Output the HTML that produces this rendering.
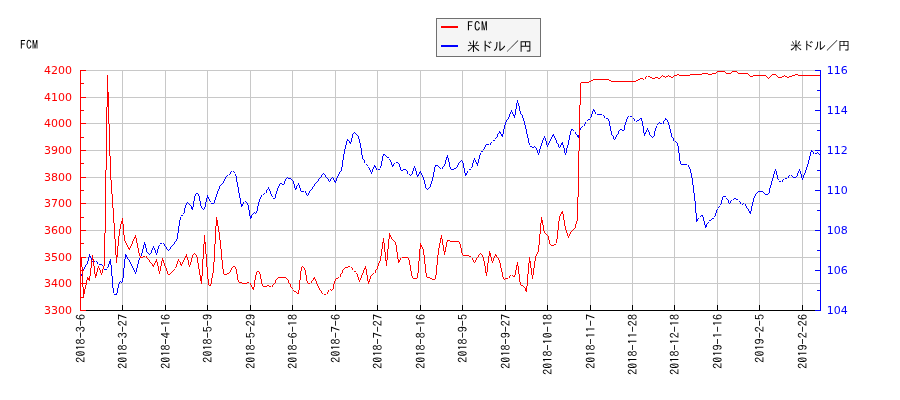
<!DOCTYPE html><html><head><meta charset="utf-8"><title>FCM</title><style>
html,body{margin:0;padding:0;background:#fff;}svg{display:block;}
.n{font-family:"DejaVu Sans","Liberation Sans",sans-serif;font-size:11px;}
.j{font-family:"IPAGothic","Liberation Mono","Noto Sans CJK JP",monospace;font-size:12px;fill:#000;}
</style></head><body>
<svg width="900" height="400" viewBox="0 0 900 400">
<rect width="900" height="400" fill="#fff"/>
<g shape-rendering="crispEdges" fill="none" stroke-width="1">
<line x1="80" y1="70.5" x2="820" y2="70.5" stroke="#c8c8c8"/>
<line x1="80" y1="97.5" x2="820" y2="97.5" stroke="#c8c8c8"/>
<line x1="80" y1="123.5" x2="820" y2="123.5" stroke="#c8c8c8"/>
<line x1="80" y1="150.5" x2="820" y2="150.5" stroke="#c8c8c8"/>
<line x1="80" y1="177.5" x2="820" y2="177.5" stroke="#c8c8c8"/>
<line x1="80" y1="203.5" x2="820" y2="203.5" stroke="#c8c8c8"/>
<line x1="80" y1="230.5" x2="820" y2="230.5" stroke="#c8c8c8"/>
<line x1="80" y1="257.5" x2="820" y2="257.5" stroke="#c8c8c8"/>
<line x1="80" y1="283.5" x2="820" y2="283.5" stroke="#c8c8c8"/>
<line x1="80" y1="310.5" x2="820" y2="310.5" stroke="#c8c8c8"/>
<line x1="122.5" y1="70" x2="122.5" y2="310" stroke="#c8c8c8"/>
<line x1="165.5" y1="70" x2="165.5" y2="310" stroke="#c8c8c8"/>
<line x1="207.5" y1="70" x2="207.5" y2="310" stroke="#c8c8c8"/>
<line x1="250.5" y1="70" x2="250.5" y2="310" stroke="#c8c8c8"/>
<line x1="292.5" y1="70" x2="292.5" y2="310" stroke="#c8c8c8"/>
<line x1="335.5" y1="70" x2="335.5" y2="310" stroke="#c8c8c8"/>
<line x1="377.5" y1="70" x2="377.5" y2="310" stroke="#c8c8c8"/>
<line x1="420.5" y1="70" x2="420.5" y2="310" stroke="#c8c8c8"/>
<line x1="462.5" y1="70" x2="462.5" y2="310" stroke="#c8c8c8"/>
<line x1="505.5" y1="70" x2="505.5" y2="310" stroke="#c8c8c8"/>
<line x1="547.5" y1="70" x2="547.5" y2="310" stroke="#c8c8c8"/>
<line x1="590.5" y1="70" x2="590.5" y2="310" stroke="#c8c8c8"/>
<line x1="632.5" y1="70" x2="632.5" y2="310" stroke="#c8c8c8"/>
<line x1="674.5" y1="70" x2="674.5" y2="310" stroke="#c8c8c8"/>
<line x1="717.5" y1="70" x2="717.5" y2="310" stroke="#c8c8c8"/>
<line x1="759.5" y1="70" x2="759.5" y2="310" stroke="#c8c8c8"/>
<line x1="802.5" y1="70" x2="802.5" y2="310" stroke="#c8c8c8"/>
<line x1="80" y1="310.5" x2="821" y2="310.5" stroke="#000"/>
<line x1="80.5" y1="305" x2="80.5" y2="311" stroke="#000"/>
<line x1="122.5" y1="305" x2="122.5" y2="311" stroke="#000"/>
<line x1="165.5" y1="305" x2="165.5" y2="311" stroke="#000"/>
<line x1="207.5" y1="305" x2="207.5" y2="311" stroke="#000"/>
<line x1="250.5" y1="305" x2="250.5" y2="311" stroke="#000"/>
<line x1="292.5" y1="305" x2="292.5" y2="311" stroke="#000"/>
<line x1="335.5" y1="305" x2="335.5" y2="311" stroke="#000"/>
<line x1="377.5" y1="305" x2="377.5" y2="311" stroke="#000"/>
<line x1="420.5" y1="305" x2="420.5" y2="311" stroke="#000"/>
<line x1="462.5" y1="305" x2="462.5" y2="311" stroke="#000"/>
<line x1="505.5" y1="305" x2="505.5" y2="311" stroke="#000"/>
<line x1="547.5" y1="305" x2="547.5" y2="311" stroke="#000"/>
<line x1="590.5" y1="305" x2="590.5" y2="311" stroke="#000"/>
<line x1="632.5" y1="305" x2="632.5" y2="311" stroke="#000"/>
<line x1="674.5" y1="305" x2="674.5" y2="311" stroke="#000"/>
<line x1="717.5" y1="305" x2="717.5" y2="311" stroke="#000"/>
<line x1="759.5" y1="305" x2="759.5" y2="311" stroke="#000"/>
<line x1="802.5" y1="305" x2="802.5" y2="311" stroke="#000"/>
<path d="M84 267v2h1v-2zM83 269v2h1v-2zM82 271v3h1v-3zM81 274v2h1v-2zM87 263v1h1v-1zM86 264v1h1v-1zM85 265v2h1v-2zM84 267v1h1v-1zM89 254v3h1v-3zM88 257v4h1v-4zM87 261v3h1v-3zM89 254v2h1v-2zM90 256v2h1v-2zM91 258v3h1v-3zM92 261v2h1v-2zM92 262h1v1h-1zM93 261h2v1h-2zM95 260h1v1h-1zM95 260v1h1v-1zM96 261v1h1v-1zM97 262v2h1v-2zM98 264v1h1v-1zM98 264h5v1h-5zM102 264v2h1v-2zM103 266v3h1v-3zM104 269v2h1v-2zM104 270h1v1h-1zM105 269h2v1h-2zM107 268h1v1h-1zM110 259v2h1v-2zM109 261v3h1v-3zM108 264v3h1v-3zM107 267v2h1v-2zM110 259v6h1v-6zM111 265v11h1v-11zM112 276v12h1v-12zM113 288v6h1v-6zM113 293h1v1h-1zM114 294h2v1h-2zM116 295h1v1h-1zM119 281v3h1v-3zM118 284v4h1v-4zM117 288v5h1v-5zM116 293v3h1v-3zM119 281h2v1h-2zM121 282h2v1h-2zM125 254v5h1v-5zM124 259v9h1v-9zM123 268v10h1v-10zM122 278v5h1v-5zM125 254v1h1v-1zM126 255v2h1v-2zM127 257v2h1v-2zM128 259v1h1v-1zM129 260v2h1v-2zM130 262v1h1v-1zM130 262v2h1v-2zM131 264v2h1v-2zM132 266v2h1v-2zM133 268v2h1v-2zM134 270v2h1v-2zM135 272v2h1v-2zM139 258v2h1v-2zM138 260v4h1v-4zM137 264v4h1v-4zM136 268v4h1v-4zM135 272v2h1v-2zM141 255v1h1v-1zM140 256v2h1v-2zM139 258v1h1v-1zM144 242v3h1v-3zM143 245v4h1v-4zM142 249v4h1v-4zM141 253v3h1v-3zM144 242v2h1v-2zM145 244v4h1v-4zM146 248v4h1v-4zM147 252v2h1v-2zM147 253h2v1h-2zM149 254h2v1h-2zM153 246v2h1v-2zM152 248v2h1v-2zM151 250v3h1v-3zM150 253v2h1v-2zM153 246v2h1v-2zM154 248v2h1v-2zM155 250v3h1v-3zM156 253v2h1v-2zM159 244v2h1v-2zM158 246v3h1v-3zM157 249v4h1v-4zM156 253v2h1v-2zM159 244h1v1h-1zM160 243h2v1h-2zM162 242h1v1h-1zM162 242v1h1v-1zM163 243v1h1v-1zM164 244v2h1v-2zM165 246v1h1v-1zM166 247v2h1v-2zM167 249v1h1v-1zM168 250v1h1v-1zM172 245v1h1v-1zM171 246v1h1v-1zM170 247v2h1v-2zM169 249v1h1v-1zM168 250v1h1v-1zM176 240v1h1v-1zM175 241v1h1v-1zM174 242v2h1v-2zM173 244v1h1v-1zM172 245v1h1v-1zM177 236v3h1v-3zM176 239v2h1v-2zM180 216v4h1v-4zM179 220v6h1v-6zM178 226v7h1v-7zM177 233v4h1v-4zM180 216h1v1h-1zM181 215h2v1h-2zM183 214h1v1h-1zM186 202v3h1v-3zM185 205v3h1v-3zM184 208v5h1v-5zM183 213v2h1v-2zM186 202h2v1h-2zM188 203h2v1h-2zM189 203v2h1v-2zM190 205v1h1v-1zM191 206v3h1v-3zM192 209v1h1v-1zM195 193v3h1v-3zM194 196v5h1v-5zM193 201v6h1v-6zM192 207v3h1v-3zM195 193h4v1h-4zM198 193v3h1v-3zM199 196v5h1v-5zM200 201v5h1v-5zM201 206v3h1v-3zM201 208h2v1h-2zM203 209h2v1h-2zM207 195v3h1v-3zM206 198v4h1v-4zM205 202v5h1v-5zM204 207v3h1v-3zM207 195v2h1v-2zM208 197v2h1v-2zM209 199v2h1v-2zM210 201v2h1v-2zM210 202h1v1h-1zM211 203h2v1h-2zM213 204h1v1h-1zM216 195v2h1v-2zM215 197v3h1v-3zM214 200v3h1v-3zM213 203v2h1v-2zM220 184v2h1v-2zM219 186v3h1v-3zM218 189v2h1v-2zM217 191v3h1v-3zM216 194v2h1v-2zM220 184h3v1h-3zM226 175v2h1v-2zM225 177v2h1v-2zM224 179v2h1v-2zM223 181v2h1v-2zM222 183v2h1v-2zM226 175h3v1h-3zM232 170v1h1v-1zM231 171v1h1v-1zM230 172v2h1v-2zM229 174v1h1v-1zM228 175v1h1v-1zM232 170h1v1h-1zM233 171h1v1h-1zM234 172h1v1h-1zM235 173h1v1h-1zM235 173v3h1v-3zM236 176v6h1v-6zM237 182v5h1v-5zM238 187v6h1v-6zM239 193v5h1v-5zM240 198v6h1v-6zM241 204v3h1v-3zM244 201v1h1v-1zM243 202v2h1v-2zM242 204v2h1v-2zM241 206v1h1v-1zM244 201h2v1h-2zM246 202h2v1h-2zM247 202v3h1v-3zM248 205v5h1v-5zM249 210v6h1v-6zM250 216v3h1v-3zM253 212v2h1v-2zM252 214v1h1v-1zM251 215v3h1v-3zM250 218v1h1v-1zM253 212h2v1h-2zM255 213h2v1h-2zM259 199v3h1v-3zM258 202v4h1v-4zM257 206v5h1v-5zM256 211v3h1v-3zM262 194v1h1v-1zM261 195v2h1v-2zM260 197v2h1v-2zM259 199v1h1v-1zM262 194h2v1h-2zM264 193h2v1h-2zM268 187v2h1v-2zM267 189v1h1v-1zM266 190v3h1v-3zM265 193v1h1v-1zM268 187v2h1v-2zM269 189v2h1v-2zM270 191v3h1v-3zM271 194v2h1v-2zM272 196v2h1v-2zM272 197h1v1h-1zM273 198h1v1h-1zM274 199h1v1h-1zM277 189v2h1v-2zM276 191v3h1v-3zM275 194v4h1v-4zM274 198v2h1v-2zM280 182v2h1v-2zM279 184v2h1v-2zM278 186v2h1v-2zM277 188v2h1v-2zM280 182h1v1h-1zM281 183h1v1h-1zM282 184h1v1h-1zM283 185h1v1h-1zM286 177v2h1v-2zM285 179v2h1v-2zM284 181v3h1v-3zM283 184v2h1v-2zM286 177h2v1h-2zM288 178h2v1h-2zM289 178h2v1h-2zM291 179h2v1h-2zM292 179v2h1v-2zM293 181v3h1v-3zM294 184v4h1v-4zM295 188v2h1v-2zM298 183v2h1v-2zM297 185v1h1v-1zM296 186v3h1v-3zM295 189v1h1v-1zM298 183v2h1v-2zM299 185v3h1v-3zM300 188v3h1v-3zM301 191v2h1v-2zM301 192h1v1h-1zM302 191h2v1h-2zM304 190h1v1h-1zM304 190v1h1v-1zM305 191v2h1v-2zM306 193v2h1v-2zM307 195v1h1v-1zM310 190v1h1v-1zM309 191v2h1v-2zM308 193v2h1v-2zM307 195v1h1v-1zM316 182v1h1v-1zM315 183v1h1v-1zM314 184v2h1v-2zM313 186v1h1v-1zM312 187v2h1v-2zM311 189v1h1v-1zM310 190v1h1v-1zM320 177v1h1v-1zM319 178v1h1v-1zM318 179v2h1v-2zM317 181v1h1v-1zM316 182v1h1v-1zM323 173v1h1v-1zM322 174v1h1v-1zM321 175v2h1v-2zM320 177v1h1v-1zM323 173v1h1v-1zM324 174v1h1v-1zM325 175v2h1v-2zM326 177v1h1v-1zM326 177v1h1v-1zM327 178v1h1v-1zM328 179v2h1v-2zM329 181v1h1v-1zM332 177v1h1v-1zM331 178v1h1v-1zM330 179v2h1v-2zM329 181v1h1v-1zM332 177v1h1v-1zM333 178v2h1v-2zM334 180v2h1v-2zM335 182v1h1v-1zM338 174v2h1v-2zM337 176v2h1v-2zM336 178v3h1v-3zM335 181v2h1v-2zM341 170v1h1v-1zM340 171v1h1v-1zM339 172v2h1v-2zM338 174v1h1v-1zM344 150v4h1v-4zM343 154v6h1v-6zM342 160v7h1v-7zM341 167v4h1v-4zM347 139v2h1v-2zM346 141v4h1v-4zM345 145v4h1v-4zM344 149v2h1v-2zM347 139v1h1v-1zM348 140v1h1v-1zM349 141v2h1v-2zM350 143v1h1v-1zM353 132v2h1v-2zM352 134v4h1v-4zM351 138v4h1v-4zM350 142v2h1v-2zM353 132h2v1h-2zM355 133h2v1h-2zM356 133v2h1v-2zM357 135v1h1v-1zM358 136v3h1v-3zM359 139v1h1v-1zM359 139v4h1v-4zM360 143v5h1v-5zM361 148v7h1v-7zM362 155v3h1v-3zM362 157v2h1v-2zM363 159v1h1v-1zM364 160v3h1v-3zM365 163v1h1v-1zM365 163h1v1h-1zM366 164h1v1h-1zM367 165h1v1h-1zM368 166h1v1h-1zM368 166v2h1v-2zM369 168v2h1v-2zM370 170v2h1v-2zM371 172v2h1v-2zM374 165v2h1v-2zM373 167v2h1v-2zM372 169v3h1v-3zM371 172v2h1v-2zM374 165v1h1v-1zM375 166v2h1v-2zM376 168v2h1v-2zM377 170v1h1v-1zM377 170h1v1h-1zM378 169h2v1h-2zM380 168h1v1h-1zM383 153v3h1v-3zM382 156v5h1v-5zM381 161v5h1v-5zM380 166v3h1v-3zM383 153h1v1h-1zM384 154h1v1h-1zM385 155h1v1h-1zM386 156h1v1h-1zM386 156h1v1h-1zM387 157h2v1h-2zM389 158h1v1h-1zM389 158v2h1v-2zM390 160v2h1v-2zM391 162v3h1v-3zM392 165v2h1v-2zM395 162v1h1v-1zM394 163v1h1v-1zM393 164v2h1v-2zM392 166v1h1v-1zM395 162h4v1h-4zM398 162v2h1v-2zM399 164v3h1v-3zM400 167v3h1v-3zM401 170v2h1v-2zM401 171h1v1h-1zM402 170h1v1h-1zM403 169h2v1h-2zM405 168h1v1h-1zM405 168v2h1v-2zM406 170v1h1v-1zM407 171v3h1v-3zM408 174v1h1v-1zM408 174h2v1h-2zM410 175h2v1h-2zM414 166v2h1v-2zM413 168v3h1v-3zM412 171v3h1v-3zM411 174v2h1v-2zM414 166v2h1v-2zM415 168v3h1v-3zM416 171v4h1v-4zM417 175v2h1v-2zM420 171v1h1v-1zM419 172v2h1v-2zM418 174v2h1v-2zM417 176v1h1v-1zM420 171v2h1v-2zM421 173v2h1v-2zM422 175v2h1v-2zM423 177v2h1v-2zM423 178v2h1v-2zM424 180v4h1v-4zM425 184v4h1v-4zM426 188v2h1v-2zM426 189h2v1h-2zM428 188h2v1h-2zM432 179v2h1v-2zM431 181v3h1v-3zM430 184v3h1v-3zM429 187v2h1v-2zM435 164v3h1v-3zM434 167v5h1v-5zM433 172v5h1v-5zM432 177v3h1v-3zM435 164h1v1h-1zM436 165h2v1h-2zM438 166h1v1h-1zM438 166h1v1h-1zM439 167h1v1h-1zM440 168h1v1h-1zM441 169h1v1h-1zM444 165v1h1v-1zM443 166v1h1v-1zM442 167v2h1v-2zM441 169v1h1v-1zM447 155v2h1v-2zM446 157v3h1v-3zM445 160v4h1v-4zM444 164v2h1v-2zM447 155v3h1v-3zM448 158v4h1v-4zM449 162v5h1v-5zM450 167v3h1v-3zM450 169h4v1h-4zM454 168h3v1h-3zM459 161v2h1v-2zM458 163v2h1v-2zM457 165v2h1v-2zM456 167v2h1v-2zM459 161h2v1h-2zM461 160h2v1h-2zM462 160v3h1v-3zM463 163v5h1v-5zM464 168v5h1v-5zM465 173v3h1v-3zM468 170v1h1v-1zM467 171v2h1v-2zM466 173v2h1v-2zM465 175v1h1v-1zM468 170h1v1h-1zM469 169h2v1h-2zM471 168h1v1h-1zM474 158v2h1v-2zM473 160v3h1v-3zM472 163v4h1v-4zM471 167v2h1v-2zM474 158v2h1v-2zM475 160v2h1v-2zM476 162v2h1v-2zM477 164v2h1v-2zM480 152v3h1v-3zM479 155v4h1v-4zM478 159v4h1v-4zM477 163v3h1v-3zM480 152h1v1h-1zM481 151h2v1h-2zM483 150h1v1h-1zM486 143v2h1v-2zM485 145v2h1v-2zM484 147v2h1v-2zM483 149v2h1v-2zM486 143h1v1h-1zM487 144h2v1h-2zM489 145h1v1h-1zM492 141v1h1v-1zM491 142v1h1v-1zM490 143v2h1v-2zM489 145v1h1v-1zM492 141h1v1h-1zM493 140h2v1h-2zM495 139h1v1h-1zM499 131v2h1v-2zM498 133v1h1v-1zM497 134v3h1v-3zM496 137v1h1v-1zM495 138v2h1v-2zM499 131v1h1v-1zM500 132v2h1v-2zM501 134v2h1v-2zM502 136v1h1v-1zM505 122v3h1v-3zM504 125v4h1v-4zM503 129v5h1v-5zM502 134v3h1v-3zM508 118v1h1v-1zM507 119v1h1v-1zM506 120v2h1v-2zM505 122v1h1v-1zM511 110v2h1v-2zM510 112v2h1v-2zM509 114v3h1v-3zM508 117v2h1v-2zM511 110v2h1v-2zM512 112v2h1v-2zM513 114v2h1v-2zM514 116v2h1v-2zM517 100v3h1v-3zM516 103v6h1v-6zM515 109v6h1v-6zM514 115v3h1v-3zM517 100v3h1v-3zM518 103v3h1v-3zM519 106v5h1v-5zM520 111v2h1v-2zM520 112v2h1v-2zM521 114v1h1v-1zM522 115v3h1v-3zM523 118v1h1v-1zM523 118v3h1v-3zM524 121v4h1v-4zM525 125v4h1v-4zM526 129v3h1v-3zM526 131v3h1v-3zM527 134v4h1v-4zM528 138v5h1v-5zM529 143v3h1v-3zM529 145h1v1h-1zM530 146h2v1h-2zM532 147h1v1h-1zM532 147h2v1h-2zM534 146h2v1h-2zM535 146v2h1v-2zM536 148v2h1v-2zM537 150v3h1v-3zM538 153v2h1v-2zM541 144v2h1v-2zM540 146v3h1v-3zM539 149v4h1v-4zM538 153v2h1v-2zM544 136v2h1v-2zM543 138v2h1v-2zM542 140v3h1v-3zM541 143v2h1v-2zM544 136v2h1v-2zM545 138v3h1v-3zM546 141v4h1v-4zM547 145v2h1v-2zM550 139v2h1v-2zM549 141v2h1v-2zM548 143v2h1v-2zM547 145v2h1v-2zM553 134v1h1v-1zM552 135v2h1v-2zM551 137v2h1v-2zM550 139v1h1v-1zM553 134v2h1v-2zM554 136v2h1v-2zM555 138v2h1v-2zM556 140v2h1v-2zM556 141v2h1v-2zM557 143v1h1v-1zM558 144v3h1v-3zM559 147v1h1v-1zM562 142v1h1v-1zM561 143v2h1v-2zM560 145v2h1v-2zM559 147v1h1v-1zM562 142v3h1v-3zM563 145v3h1v-3zM564 148v5h1v-5zM565 153v2h1v-2zM568 142v3h1v-3zM567 145v3h1v-3zM566 148v5h1v-5zM565 153v2h1v-2zM571 128v3h1v-3zM570 131v4h1v-4zM569 135v5h1v-5zM568 140v3h1v-3zM571 128h1v1h-1zM572 129h1v1h-1zM573 130h1v1h-1zM574 131h1v1h-1zM574 131v1h1v-1zM575 132v2h1v-2zM576 134v1h1v-1zM577 135v2h1v-2zM578 137v1h1v-1zM580 127v3h1v-3zM579 130v5h1v-5zM578 135v3h1v-3zM580 127h2v1h-2zM582 126h2v1h-2zM586 121v1h1v-1zM585 122v2h1v-2zM584 124v2h1v-2zM583 126v1h1v-1zM586 121h1v1h-1zM587 120h1v1h-1zM588 119h2v1h-2zM590 118h1v1h-1zM593 109v2h1v-2zM592 111v3h1v-3zM591 114v3h1v-3zM590 117v2h1v-2zM593 109v1h1v-1zM594 110v2h1v-2zM595 112v2h1v-2zM596 114v1h1v-1zM596 114h7v1h-7zM602 114v1h1v-1zM603 115v1h1v-1zM604 116v2h1v-2zM605 118v1h1v-1zM605 118h4v1h-4zM608 118v3h1v-3zM609 121v5h1v-5zM610 126v5h1v-5zM611 131v3h1v-3zM611 133v2h1v-2zM612 135v1h1v-1zM613 136v3h1v-3zM614 139v1h1v-1zM617 134v1h1v-1zM616 135v2h1v-2zM615 137v2h1v-2zM614 139v1h1v-1zM620 128v2h1v-2zM619 130v1h1v-1zM618 131v3h1v-3zM617 134v1h1v-1zM620 128h1v1h-1zM621 129h1v1h-1zM622 130h1v1h-1zM623 131h1v1h-1zM626 119v3h1v-3zM625 122v3h1v-3zM624 125v5h1v-5zM623 130v2h1v-2zM629 115v1h1v-1zM628 116v1h1v-1zM627 117v2h1v-2zM626 119v1h1v-1zM629 115h1v1h-1zM630 116h2v1h-2zM632 117h1v1h-1zM632 117v1h1v-1zM633 118v1h1v-1zM634 119v2h1v-2zM635 121v1h1v-1zM635 121h2v1h-2zM637 120h2v1h-2zM638 120h1v1h-1zM639 119h1v1h-1zM640 118h1v1h-1zM641 117h1v1h-1zM641 117v4h1v-4zM642 121v5h1v-5zM643 126v7h1v-7zM644 133v3h1v-3zM647 128v2h1v-2zM646 130v2h1v-2zM645 132v2h1v-2zM644 134v2h1v-2zM647 128v2h1v-2zM648 130v2h1v-2zM649 132v3h1v-3zM650 135v2h1v-2zM650 136h2v1h-2zM652 137h2v1h-2zM656 125v3h1v-3zM655 128v3h1v-3zM654 131v5h1v-5zM653 136v2h1v-2zM656 125h1v1h-1zM657 124h1v1h-1zM658 123h1v1h-1zM659 122h1v1h-1zM659 122h1v1h-1zM660 123h2v1h-2zM662 124h1v1h-1zM665 118v2h1v-2zM664 120v1h1v-1zM663 121v3h1v-3zM662 124v1h1v-1zM665 118v1h1v-1zM666 119v1h1v-1zM667 120v2h1v-2zM668 122v1h1v-1zM668 122v3h1v-3zM669 125v4h1v-4zM670 129v4h1v-4zM671 133v3h1v-3zM671 135v2h1v-2zM672 137v1h1v-1zM673 138v3h1v-3zM674 141v1h1v-1zM674 141h2v1h-2zM676 142h2v1h-2zM677 142v4h1v-4zM678 146v7h1v-7zM679 153v8h1v-8zM680 161v4h1v-4zM680 164h8v1h-8zM687 164v1h1v-1zM688 165v2h1v-2zM689 167v2h1v-2zM690 169v1h1v-1zM690 169v4h1v-4zM691 173v5h1v-5zM692 178v4h1v-4zM692 181v4h1v-4zM693 185v8h1v-8zM694 193v8h1v-8zM695 201v4h1v-4zM695 204v9h1v-9zM696 213v9h1v-9zM699 217v1h1v-1zM698 218v1h1v-1zM697 219v2h1v-2zM696 221v1h1v-1zM699 217h1v1h-1zM700 216h1v1h-1zM701 215h1v1h-1zM702 214h1v1h-1zM702 214v3h1v-3zM703 217v4h1v-4zM704 221v4h1v-4zM705 225v3h1v-3zM708 221v2h1v-2zM707 223v1h1v-1zM706 224v3h1v-3zM705 227v1h1v-1zM708 221h1v1h-1zM709 220h2v1h-2zM711 219h1v1h-1zM712 218h2v1h-2zM714 217h1v1h-1zM717 208v2h1v-2zM716 210v3h1v-3zM715 213v3h1v-3zM714 216v2h1v-2zM717 208h1v1h-1zM718 207h1v1h-1zM719 206h1v1h-1zM720 205h1v1h-1zM723 195v2h1v-2zM722 197v3h1v-3zM721 200v4h1v-4zM720 204v2h1v-2zM723 195h1v1h-1zM724 196h2v1h-2zM726 197h1v1h-1zM726 197v2h1v-2zM727 199v1h1v-1zM728 200v3h1v-3zM729 203v1h1v-1zM732 199v1h1v-1zM731 200v1h1v-1zM730 201v2h1v-2zM729 203v1h1v-1zM732 199h2v1h-2zM734 198h2v1h-2zM735 198h1v1h-1zM736 199h2v1h-2zM738 200h1v1h-1zM738 200v1h1v-1zM739 201v1h1v-1zM740 202v2h1v-2zM741 204v1h1v-1zM741 204h2v1h-2zM743 203h2v1h-2zM744 203v1h1v-1zM745 204v2h1v-2zM746 206v2h1v-2zM747 208v1h1v-1zM748 209v2h1v-2zM749 211v2h1v-2zM750 213v1h1v-1zM753 199v3h1v-3zM752 202v4h1v-4zM751 206v5h1v-5zM750 211v3h1v-3zM756 192v2h1v-2zM755 194v2h1v-2zM754 196v2h1v-2zM753 198v2h1v-2zM756 192h2v1h-2zM758 191h2v1h-2zM759 191h4v1h-4zM762 191h1v1h-1zM763 192h1v1h-1zM764 193h1v1h-1zM765 194h1v1h-1zM765 194h4v1h-4zM771 182v3h1v-3zM770 185v3h1v-3zM769 188v5h1v-5zM768 193v2h1v-2zM775 169v2h1v-2zM774 171v3h1v-3zM773 174v4h1v-4zM772 178v3h1v-3zM771 181v2h1v-2zM775 169v2h1v-2zM776 171v4h1v-4zM777 175v4h1v-4zM778 179v2h1v-2zM778 180h1v1h-1zM779 181h2v1h-2zM781 182h1v1h-1zM784 178v1h1v-1zM783 179v1h1v-1zM782 180v2h1v-2zM781 182v1h1v-1zM784 178h4v1h-4zM790 174v1h1v-1zM789 175v1h1v-1zM788 176v2h1v-2zM787 178v1h1v-1zM790 174h1v1h-1zM791 175h1v1h-1zM792 176h1v1h-1zM793 177h1v1h-1zM793 177h4v1h-4zM799 169v2h1v-2zM798 171v2h1v-2zM797 173v3h1v-3zM796 176v2h1v-2zM799 169v2h1v-2zM800 171v3h1v-3zM801 174v4h1v-4zM802 178v2h1v-2zM807 165v2h1v-2zM806 167v3h1v-3zM805 170v3h1v-3zM804 173v2h1v-2zM803 175v3h1v-3zM802 178v2h1v-2zM811 150v2h1v-2zM810 152v4h1v-4zM809 156v4h1v-4zM808 160v4h1v-4zM807 164v2h1v-2zM811 150v1h1v-1zM812 151v1h1v-1zM813 152v2h1v-2zM814 154v1h1v-1zM814 154h1v1h-1zM815 153h2v1h-2zM817 152h1v1h-1zM817 152h1v1h-1zM818 153h1v1h-1zM819 154h1v1h-1zM820 155h1v1h-1z" fill="#0000ff" stroke="none"/>
<path d="M81 257v10h1v-10zM82 267v20h1v-20zM83 287v10h1v-10zM87 277v3h1v-3zM86 280v5h1v-5zM85 285v4h1v-4zM84 289v5h1v-5zM83 294v3h1v-3zM87 277v1h1v-1zM88 278v2h1v-2zM89 280v1h1v-1zM92 255v5h1v-5zM91 260v8h1v-8zM90 268v8h1v-8zM89 276v5h1v-5zM92 255v4h1v-4zM93 259v7h1v-7zM94 266v8h1v-8zM95 274v4h1v-4zM98 266v2h1v-2zM97 268v4h1v-4zM96 272v4h1v-4zM95 276v2h1v-2zM98 266v2h1v-2zM99 268v2h1v-2zM100 270v3h1v-3zM101 273v2h1v-2zM104 264v2h1v-2zM103 266v3h1v-3zM102 269v4h1v-4zM101 273v2h1v-2zM107 75v32h1v-32zM106 107v63h1v-63zM105 170v63h1v-63zM104 233v32h1v-32zM107 75v17h1v-17zM108 92v32h1v-32zM109 124v32h1v-32zM110 156v17h1v-17zM110 172v8h1v-8zM111 180v14h1v-14zM112 194v14h1v-14zM113 208v8h1v-8zM113 215v8h1v-8zM114 223v16h1v-16zM115 239v16h1v-16zM116 255v8h1v-8zM119 230v6h1v-6zM118 236v10h1v-10zM117 246v11h1v-11zM116 257v6h1v-6zM122 218v3h1v-3zM121 221v3h1v-3zM120 224v5h1v-5zM119 229v2h1v-2zM122 218v6h1v-6zM123 224v11h1v-11zM124 235v6h1v-6zM124 240v1h1v-1zM125 241v2h1v-2zM126 243v2h1v-2zM127 245v2h1v-2zM128 247v2h1v-2zM129 249v1h1v-1zM135 235v2h1v-2zM134 237v2h1v-2zM133 239v2h1v-2zM132 241v3h1v-3zM131 244v2h1v-2zM130 246v2h1v-2zM129 248v2h1v-2zM135 235v3h1v-3zM136 238v5h1v-5zM137 243v5h1v-5zM138 248v3h1v-3zM138 250v3h1v-3zM139 253v3h1v-3zM140 256v3h1v-3zM140 258h1v1h-1zM141 257h2v1h-2zM143 256h2v1h-2zM145 255h1v1h-1zM145 255v1h1v-1zM146 256v2h1v-2zM147 258v1h1v-1zM148 259v1h1v-1zM149 260v2h1v-2zM150 262v1h1v-1zM151 263v1h1v-1zM152 264v2h1v-2zM153 266v1h1v-1zM156 259v2h1v-2zM155 261v2h1v-2zM154 263v2h1v-2zM153 265v2h1v-2zM156 259v3h1v-3zM157 262v4h1v-4zM158 266v5h1v-5zM159 271v3h1v-3zM162 258v3h1v-3zM161 261v5h1v-5zM160 266v5h1v-5zM159 271v3h1v-3zM162 258v2h1v-2zM163 260v3h1v-3zM164 263v3h1v-3zM165 266v2h1v-2zM166 268v3h1v-3zM167 271v3h1v-3zM168 274v2h1v-2zM168 275h1v1h-1zM169 274h1v1h-1zM170 273h1v1h-1zM171 272h1v1h-1zM172 271h1v1h-1zM173 270h1v1h-1zM174 269h1v1h-1zM175 268h1v1h-1zM178 259v2h1v-2zM177 261v3h1v-3zM176 264v3h1v-3zM175 267v2h1v-2zM178 259v2h1v-2zM179 261v1h1v-1zM180 262v3h1v-3zM181 265v1h1v-1zM186 254v2h1v-2zM185 256v2h1v-2zM184 258v2h1v-2zM183 260v2h1v-2zM182 262v2h1v-2zM181 264v2h1v-2zM186 254v3h1v-3zM187 257v3h1v-3zM188 260v5h1v-5zM189 265v2h1v-2zM193 253v2h1v-2zM192 255v3h1v-3zM191 258v4h1v-4zM190 262v3h1v-3zM189 265v2h1v-2zM193 253h2v1h-2zM195 254h2v1h-2zM196 254v3h1v-3zM197 257v6h1v-6zM198 263v6h1v-6zM199 269v6h1v-6zM200 275v6h1v-6zM201 281v3h1v-3zM204 235v9h1v-9zM203 244v15h1v-15zM202 259v17h1v-17zM201 276v8h1v-8zM204 235v7h1v-7zM205 242v12h1v-12zM206 254v13h1v-13zM207 267v12h1v-12zM208 279v7h1v-7zM208 285h2v1h-2zM210 286h1v1h-1zM213 270v3h1v-3zM212 273v5h1v-5zM211 278v6h1v-6zM210 284v3h1v-3zM216 217v9h1v-9zM215 226v18h1v-18zM214 244v18h1v-18zM213 262v9h1v-9zM216 217v3h1v-3zM217 220v6h1v-6zM218 226v6h1v-6zM219 232v3h1v-3zM219 234v6h1v-6zM220 240v9h1v-9zM221 249v11h1v-11zM222 260v9h1v-9zM223 269v6h1v-6zM223 274h4v1h-4zM227 273h3v1h-3zM232 266v2h1v-2zM231 268v2h1v-2zM230 270v2h1v-2zM229 272v2h1v-2zM232 266h4v1h-4zM235 266v3h1v-3zM236 269v5h1v-5zM237 274v6h1v-6zM238 280v3h1v-3zM238 282h4v1h-4zM242 283h3v1h-3zM244 283h3v1h-3zM247 282h3v1h-3zM249 282v1h1v-1zM250 283v2h1v-2zM251 285v2h1v-2zM252 287v2h1v-2zM253 289v1h1v-1zM256 271v4h1v-4zM255 275v5h1v-5zM254 280v7h1v-7zM253 287v3h1v-3zM256 271h4v1h-4zM259 271v3h1v-3zM260 274v5h1v-5zM261 279v5h1v-5zM262 284v3h1v-3zM262 286h4v1h-4zM265 286h2v1h-2zM267 285h2v1h-2zM268 285h1v1h-1zM269 286h2v1h-2zM271 287h1v1h-1zM274 283v1h1v-1zM273 284v1h1v-1zM272 285v2h1v-2zM271 287v1h1v-1zM277 277v2h1v-2zM276 279v1h1v-1zM275 280v3h1v-3zM274 283v1h1v-1zM277 277h10v1h-10zM286 277v2h1v-2zM287 279v1h1v-1zM288 280v3h1v-3zM289 283v1h1v-1zM290 284v3h1v-3zM291 287v1h1v-1zM292 288v2h1v-2zM292 289h1v1h-1zM293 290h1v1h-1zM294 291h2v1h-2zM296 292h1v1h-1zM297 293h1v1h-1zM298 294h1v1h-1zM301 266v5h1v-5zM300 271v9h1v-9zM299 280v10h1v-10zM298 290v5h1v-5zM301 266h2v1h-2zM303 267h2v1h-2zM304 267v3h1v-3zM305 270v5h1v-5zM306 275v6h1v-6zM307 281v3h1v-3zM307 283h4v1h-4zM314 277v1h1v-1zM313 278v2h1v-2zM312 280v1h1v-1zM311 281v2h1v-2zM310 283v1h1v-1zM314 277v2h1v-2zM315 279v2h1v-2zM316 281v3h1v-3zM317 284v2h1v-2zM318 286v2h1v-2zM319 288v2h1v-2zM319 289v1h1v-1zM320 290v1h1v-1zM321 291v2h1v-2zM322 293v1h1v-1zM323 294v1h1v-1zM323 294h4v1h-4zM329 289v1h1v-1zM328 290v2h1v-2zM327 292v2h1v-2zM326 294v1h1v-1zM329 289h2v1h-2zM331 290h2v1h-2zM335 278v3h1v-3zM334 281v3h1v-3zM333 284v5h1v-5zM332 289v2h1v-2zM335 278h3v1h-3zM338 277h2v1h-2zM344 267v2h1v-2zM343 269v1h1v-1zM342 270v3h1v-3zM341 273v1h1v-1zM340 274v3h1v-3zM339 277v1h1v-1zM344 267h4v1h-4zM348 266h3v1h-3zM350 266v1h1v-1zM351 267v1h1v-1zM352 268v2h1v-2zM353 270v1h1v-1zM353 270h1v1h-1zM354 271h2v1h-2zM356 272h1v1h-1zM356 272v2h1v-2zM357 274v3h1v-3zM358 277v3h1v-3zM359 280v2h1v-2zM365 266v2h1v-2zM364 268v2h1v-2zM363 270v3h1v-3zM362 273v2h1v-2zM361 275v3h1v-3zM360 278v2h1v-2zM359 280v2h1v-2zM365 266v3h1v-3zM366 269v6h1v-6zM367 275v6h1v-6zM368 281v3h1v-3zM371 274v2h1v-2zM370 276v3h1v-3zM369 279v3h1v-3zM368 282v2h1v-2zM371 274h2v1h-2zM373 273h2v1h-2zM377 267v2h1v-2zM376 269v1h1v-1zM375 270v3h1v-3zM374 273v1h1v-1zM380 259v2h1v-2zM379 261v2h1v-2zM378 263v3h1v-3zM377 266v2h1v-2zM383 238v4h1v-4zM382 242v7h1v-7zM381 249v7h1v-7zM380 256v4h1v-4zM383 238v5h1v-5zM384 243v9h1v-9zM385 252v9h1v-9zM386 261v5h1v-5zM389 233v6h1v-6zM388 239v10h1v-10zM387 249v11h1v-11zM386 260v6h1v-6zM389 233v2h1v-2zM390 235v2h1v-2zM391 237v2h1v-2zM392 239v2h1v-2zM392 240h2v1h-2zM394 241h2v1h-2zM395 241v4h1v-4zM396 245v7h1v-7zM397 252v7h1v-7zM398 259v4h1v-4zM401 257v1h1v-1zM400 258v2h1v-2zM399 260v2h1v-2zM398 262v1h1v-1zM401 257h8v1h-8zM408 257v3h1v-3zM409 260v5h1v-5zM410 265v6h1v-6zM411 271v5h1v-5zM412 276v3h1v-3zM412 278h6v1h-6zM420 243v6h1v-6zM419 249v12h1v-12zM418 261v12h1v-12zM417 273v6h1v-6zM420 243v2h1v-2zM421 245v2h1v-2zM422 247v2h1v-2zM423 249v2h1v-2zM423 250v5h1v-5zM424 255v9h1v-9zM425 264v9h1v-9zM426 273v5h1v-5zM426 277h4v1h-4zM429 277h1v1h-1zM430 278h2v1h-2zM432 279h1v1h-1zM432 279h4v1h-4zM438 250v5h1v-5zM437 255v10h1v-10zM436 265v10h1v-10zM435 275v5h1v-5zM441 235v3h1v-3zM440 238v5h1v-5zM439 243v5h1v-5zM438 248v3h1v-3zM441 235v4h1v-4zM442 239v6h1v-6zM443 245v6h1v-6zM444 251v4h1v-4zM447 239v3h1v-3zM446 242v5h1v-5zM445 247v5h1v-5zM444 252v3h1v-3zM447 239h1v1h-1zM448 240h2v1h-2zM450 241h1v1h-1zM450 241h10v1h-10zM459 241v3h1v-3zM460 244v4h1v-4zM461 248v5h1v-5zM462 253v3h1v-3zM462 255h7v1h-7zM468 255h1v1h-1zM469 256h2v1h-2zM471 257h1v1h-1zM471 257v1h1v-1zM472 258v2h1v-2zM473 260v2h1v-2zM474 262v1h1v-1zM477 257v1h1v-1zM476 258v2h1v-2zM475 260v2h1v-2zM474 262v1h1v-1zM480 253v1h1v-1zM479 254v1h1v-1zM478 255v2h1v-2zM477 257v1h1v-1zM480 253v1h1v-1zM481 254v1h1v-1zM482 255v2h1v-2zM483 257v1h1v-1zM483 257v4h1v-4zM484 261v5h1v-5zM485 266v7h1v-7zM486 273v3h1v-3zM489 251v5h1v-5zM488 256v7h1v-7zM487 263v9h1v-9zM486 272v4h1v-4zM489 251v2h1v-2zM490 253v4h1v-4zM491 257v4h1v-4zM492 261v2h1v-2zM495 254v2h1v-2zM494 256v2h1v-2zM493 258v3h1v-3zM492 261v2h1v-2zM495 254v1h1v-1zM496 255v2h1v-2zM497 257v1h1v-1zM498 258v2h1v-2zM499 260v1h1v-1zM499 260v3h1v-3zM500 263v5h1v-5zM501 268v4h1v-4zM502 272v5h1v-5zM503 277v3h1v-3zM503 279h2v1h-2zM505 278h1v1h-1zM505 278h4v1h-4zM511 274v1h1v-1zM510 275v1h1v-1zM509 276v2h1v-2zM508 278v1h1v-1zM511 274h1v1h-1zM512 275h1v1h-1zM513 276h1v1h-1zM514 277h1v1h-1zM517 262v3h1v-3zM516 265v5h1v-5zM515 270v5h1v-5zM514 275v3h1v-3zM517 262v4h1v-4zM518 266v8h1v-8zM519 274v8h1v-8zM520 282v4h1v-4zM520 285h4v1h-4zM523 285v2h1v-2zM524 287v1h1v-1zM525 288v3h1v-3zM526 291v1h1v-1zM529 257v6h1v-6zM528 263v11h1v-11zM527 274v12h1v-12zM526 286v6h1v-6zM529 257v4h1v-4zM530 261v7h1v-7zM531 268v7h1v-7zM532 275v4h1v-4zM535 257v4h1v-4zM534 261v7h1v-7zM533 268v7h1v-7zM532 275v4h1v-4zM538 250v2h1v-2zM537 252v2h1v-2zM536 254v2h1v-2zM535 256v2h1v-2zM541 217v6h1v-6zM540 223v11h1v-11zM539 234v11h1v-11zM538 245v6h1v-6zM541 217v3h1v-3zM542 220v5h1v-5zM543 225v6h1v-6zM544 231v3h1v-3zM544 233h2v1h-2zM546 234h2v1h-2zM547 234v2h1v-2zM548 236v4h1v-4zM549 240v4h1v-4zM550 244v2h1v-2zM550 245h4v1h-4zM553 245h1v1h-1zM554 244h2v1h-2zM556 243h1v1h-1zM559 216v5h1v-5zM558 221v9h1v-9zM557 230v9h1v-9zM556 239v5h1v-5zM562 211v1h1v-1zM561 212v2h1v-2zM560 214v2h1v-2zM559 216v1h1v-1zM562 211v3h1v-3zM563 214v6h1v-6zM564 220v6h1v-6zM565 226v3h1v-3zM565 228v2h1v-2zM566 230v3h1v-3zM567 233v3h1v-3zM568 236v2h1v-2zM571 230v2h1v-2zM570 232v2h1v-2zM569 234v2h1v-2zM568 236v2h1v-2zM571 230h2v1h-2zM573 229h2v1h-2zM577 219v2h1v-2zM576 221v3h1v-3zM575 224v4h1v-4zM574 228v2h1v-2zM580 82v23h1v-23zM579 105v46h1v-46zM578 151v46h1v-46zM577 197v23h1v-23zM580 82h8v1h-8zM587 82h2v1h-2zM589 81h2v1h-2zM590 81h1v1h-1zM591 80h2v1h-2zM593 79h1v1h-1zM593 79h16v1h-16zM608 79h1v1h-1zM609 80h2v1h-2zM611 81h1v1h-1zM611 81h25v1h-25zM635 81h1v1h-1zM636 80h2v1h-2zM638 79h1v1h-1zM638 79h2v1h-2zM640 78h2v1h-2zM641 78h2v1h-2zM643 79h2v1h-2zM647 75v1h1v-1zM646 76v1h1v-1zM645 77v2h1v-2zM644 79v1h1v-1zM647 75h1v1h-1zM648 76h2v1h-2zM650 77h1v1h-1zM650 77h2v1h-2zM652 78h2v1h-2zM653 78h2v1h-2zM655 77h2v1h-2zM656 77h2v1h-2zM658 78h2v1h-2zM659 78h1v1h-1zM660 77h1v1h-1zM661 76h1v1h-1zM662 75h1v1h-1zM662 75h1v1h-1zM663 76h2v1h-2zM665 77h1v1h-1zM665 77h1v1h-1zM666 76h2v1h-2zM668 75h1v1h-1zM668 75h1v1h-1zM669 76h2v1h-2zM671 77h1v1h-1zM671 77h2v1h-2zM673 76h1v1h-1zM674 75h3v1h-3zM677 74h1v1h-1zM677 74h2v1h-2zM679 75h2v1h-2zM680 75h9v1h-9zM688 75h2v1h-2zM690 74h1v1h-1zM690 74h11v1h-11zM700 74h2v1h-2zM702 73h2v1h-2zM703 73h4v1h-4zM706 73h2v1h-2zM708 74h1v1h-1zM708 74h4v1h-4zM712 73h3v1h-3zM714 73h2v1h-2zM716 72h1v1h-1zM717 71h2v1h-2zM718 71h6v1h-6zM723 71h2v1h-2zM725 72h1v1h-1zM726 73h2v1h-2zM727 73h3v1h-3zM729 73h2v1h-2zM731 72h1v1h-1zM732 71h2v1h-2zM733 71h3v1h-3zM735 71h2v1h-2zM737 72h1v1h-1zM738 73h2v1h-2zM739 73h10v1h-10zM748 73v2h1v-2zM749 75v1h1v-1zM750 76v2h1v-2zM750 77h1v1h-1zM751 76h2v1h-2zM753 75h1v1h-1zM753 75h13v1h-13zM765 75h1v1h-1zM766 76h1v1h-1zM767 77h1v1h-1zM768 78h1v1h-1zM768 78h1v1h-1zM769 77h1v1h-1zM770 76h1v1h-1zM771 75h1v1h-1zM772 74h1v1h-1zM772 74h4v1h-4zM775 74h1v1h-1zM776 75h1v1h-1zM777 76h1v1h-1zM778 77h1v1h-1zM778 77h4v1h-4zM781 77h1v1h-1zM782 76h2v1h-2zM784 75h1v1h-1zM784 75h1v1h-1zM785 76h2v1h-2zM787 77h1v1h-1zM787 77h2v1h-2zM789 76h3v1h-3zM792 75h2v1h-2zM793 75h2v1h-2zM795 74h1v1h-1zM795 74h3v1h-3zM797 74h1v1h-1zM798 75h1v1h-1zM798 75h23v1h-23z" fill="#ff0000" stroke="none"/>
<line x1="80.5" y1="70" x2="80.5" y2="311" stroke="#ff0000"/>
<line x1="80" y1="70.5" x2="86" y2="70.5" stroke="#ff0000"/>
<line x1="80" y1="83.5" x2="84" y2="83.5" stroke="#ff0000"/>
<line x1="80" y1="97.5" x2="86" y2="97.5" stroke="#ff0000"/>
<line x1="80" y1="110.5" x2="84" y2="110.5" stroke="#ff0000"/>
<line x1="80" y1="123.5" x2="86" y2="123.5" stroke="#ff0000"/>
<line x1="80" y1="137.5" x2="84" y2="137.5" stroke="#ff0000"/>
<line x1="80" y1="150.5" x2="86" y2="150.5" stroke="#ff0000"/>
<line x1="80" y1="163.5" x2="84" y2="163.5" stroke="#ff0000"/>
<line x1="80" y1="177.5" x2="86" y2="177.5" stroke="#ff0000"/>
<line x1="80" y1="190.5" x2="84" y2="190.5" stroke="#ff0000"/>
<line x1="80" y1="203.5" x2="86" y2="203.5" stroke="#ff0000"/>
<line x1="80" y1="217.5" x2="84" y2="217.5" stroke="#ff0000"/>
<line x1="80" y1="230.5" x2="86" y2="230.5" stroke="#ff0000"/>
<line x1="80" y1="243.5" x2="84" y2="243.5" stroke="#ff0000"/>
<line x1="80" y1="257.5" x2="86" y2="257.5" stroke="#ff0000"/>
<line x1="80" y1="270.5" x2="84" y2="270.5" stroke="#ff0000"/>
<line x1="80" y1="283.5" x2="86" y2="283.5" stroke="#ff0000"/>
<line x1="80" y1="297.5" x2="84" y2="297.5" stroke="#ff0000"/>
<line x1="80" y1="310.5" x2="86" y2="310.5" stroke="#ff0000"/>
<line x1="820.5" y1="70" x2="820.5" y2="311" stroke="#0000ff"/>
<line x1="815" y1="70.5" x2="821" y2="70.5" stroke="#0000ff"/>
<line x1="817" y1="90.5" x2="821" y2="90.5" stroke="#0000ff"/>
<line x1="815" y1="110.5" x2="821" y2="110.5" stroke="#0000ff"/>
<line x1="817" y1="130.5" x2="821" y2="130.5" stroke="#0000ff"/>
<line x1="815" y1="150.5" x2="821" y2="150.5" stroke="#0000ff"/>
<line x1="817" y1="170.5" x2="821" y2="170.5" stroke="#0000ff"/>
<line x1="815" y1="190.5" x2="821" y2="190.5" stroke="#0000ff"/>
<line x1="817" y1="210.5" x2="821" y2="210.5" stroke="#0000ff"/>
<line x1="815" y1="230.5" x2="821" y2="230.5" stroke="#0000ff"/>
<line x1="817" y1="250.5" x2="821" y2="250.5" stroke="#0000ff"/>
<line x1="815" y1="270.5" x2="821" y2="270.5" stroke="#0000ff"/>
<line x1="817" y1="290.5" x2="821" y2="290.5" stroke="#0000ff"/>
<line x1="815" y1="310.5" x2="821" y2="310.5" stroke="#0000ff"/>
<rect x="436.5" y="18.5" width="104" height="38" fill="#f5f5f5" stroke="#707070"/>
<line x1="441" y1="27" x2="458" y2="27" stroke="#ff0000" stroke-width="2"/>
<line x1="441" y1="46" x2="458" y2="46" stroke="#0000ff" stroke-width="2"/>
</g>
<text class="n" x="72" y="74.0" text-anchor="end" fill="#ff0000">4200</text>
<text class="n" x="72" y="100.7" text-anchor="end" fill="#ff0000">4100</text>
<text class="n" x="72" y="127.3" text-anchor="end" fill="#ff0000">4000</text>
<text class="n" x="72" y="154.0" text-anchor="end" fill="#ff0000">3900</text>
<text class="n" x="72" y="180.7" text-anchor="end" fill="#ff0000">3800</text>
<text class="n" x="72" y="207.3" text-anchor="end" fill="#ff0000">3700</text>
<text class="n" x="72" y="234.0" text-anchor="end" fill="#ff0000">3600</text>
<text class="n" x="72" y="260.7" text-anchor="end" fill="#ff0000">3500</text>
<text class="n" x="72" y="287.3" text-anchor="end" fill="#ff0000">3400</text>
<text class="n" x="72" y="314.0" text-anchor="end" fill="#ff0000">3300</text>
<text class="n" x="826.8" y="74.0" fill="#0000ff">116</text>
<text class="n" x="826.8" y="114.0" fill="#0000ff">114</text>
<text class="n" x="826.8" y="154.0" fill="#0000ff">112</text>
<text class="n" x="826.8" y="194.0" fill="#0000ff">110</text>
<text class="n" x="826.8" y="234.0" fill="#0000ff">108</text>
<text class="n" x="826.8" y="274.0" fill="#0000ff">106</text>
<text class="n" x="826.8" y="314.0" fill="#0000ff">104</text>
<text class="j" transform="translate(85,314) rotate(-90)" text-anchor="end" style="letter-spacing:0.08px">2018-3-6</text>
<text class="j" transform="translate(127,314) rotate(-90)" text-anchor="end" style="letter-spacing:0.08px">2018-3-27</text>
<text class="j" transform="translate(170,314) rotate(-90)" text-anchor="end" style="letter-spacing:0.08px">2018-4-16</text>
<text class="j" transform="translate(212,314) rotate(-90)" text-anchor="end" style="letter-spacing:0.08px">2018-5-9</text>
<text class="j" transform="translate(255,314) rotate(-90)" text-anchor="end" style="letter-spacing:0.08px">2018-5-29</text>
<text class="j" transform="translate(297,314) rotate(-90)" text-anchor="end" style="letter-spacing:0.08px">2018-6-18</text>
<text class="j" transform="translate(340,314) rotate(-90)" text-anchor="end" style="letter-spacing:0.08px">2018-7-6</text>
<text class="j" transform="translate(382,314) rotate(-90)" text-anchor="end" style="letter-spacing:0.08px">2018-7-27</text>
<text class="j" transform="translate(425,314) rotate(-90)" text-anchor="end" style="letter-spacing:0.08px">2018-8-16</text>
<text class="j" transform="translate(467,314) rotate(-90)" text-anchor="end" style="letter-spacing:0.08px">2018-9-5</text>
<text class="j" transform="translate(510,314) rotate(-90)" text-anchor="end" style="letter-spacing:0.08px">2018-9-27</text>
<text class="j" transform="translate(552,314) rotate(-90)" text-anchor="end" style="letter-spacing:0.08px">2018-10-18</text>
<text class="j" transform="translate(595,314) rotate(-90)" text-anchor="end" style="letter-spacing:0.08px">2018-11-7</text>
<text class="j" transform="translate(637,314) rotate(-90)" text-anchor="end" style="letter-spacing:0.08px">2018-11-28</text>
<text class="j" transform="translate(679,314) rotate(-90)" text-anchor="end" style="letter-spacing:0.08px">2018-12-18</text>
<text class="j" transform="translate(722,314) rotate(-90)" text-anchor="end" style="letter-spacing:0.08px">2019-1-16</text>
<text class="j" transform="translate(764,314) rotate(-90)" text-anchor="end" style="letter-spacing:0.08px">2019-2-5</text>
<text class="j" transform="translate(807,314) rotate(-90)" text-anchor="end" style="letter-spacing:0.08px">2019-2-26</text>
<text class="j" x="20" y="49">FCM</text>
<text class="j" x="790" y="50">米ドル／円</text>
<text class="j" style="font-size:13px;letter-spacing:0.5px" x="467" y="30.5">FCM</text>
<text class="j" style="font-size:13px" x="467" y="50.5">米ドル／円</text>
</svg></body></html>
